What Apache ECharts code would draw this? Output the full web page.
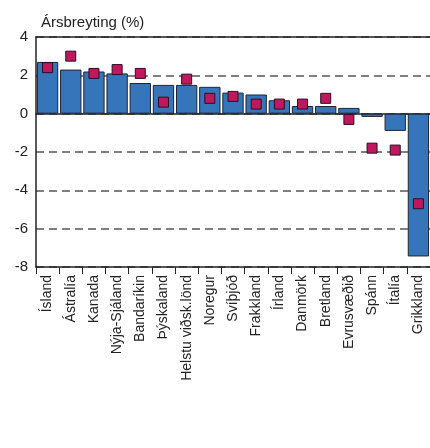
<!DOCTYPE html>
<html lang="is">
<head>
<meta charset="UTF-8">
<title>Ársbreyting</title>
<script src="https://cdn.jsdelivr.net/npm/echarts@6/dist/echarts.min.js"></script>
<style>
  html, body { margin: 0; padding: 0; background: #fff; }
  #chart { width: 430px; height: 448px; }
</style>
</head>
<body>
<div id="chart"></div>
<script>
// flokkar (lönd)
var countries = ['Ísland', 'Ástralía', 'Kanada', 'Nýja-Sjáland', 'Bandaríkin', 'Þýskaland',
  'Helstu viðsk.lönd', 'Noregur', 'Svíþjóð', 'Frakkland', 'Írland', 'Danmörk', 'Bretland',
  'Evrusvæðið', 'Spánn', 'Ítalía', 'Grikkland'];
// Fjórði ársfjórðungur 2011
var q4_2011 = [2.7, 2.3, 2.2, 2.1, 1.6, 1.5, 1.5, 1.4, 1.1, 1.0, 0.7, 0.4, 0.4, 0.3, -0.17, -0.9, -7.45];
// Spá AGS fyrir 2012
var imf2012 = [2.4, 3.0, 2.1, 2.3, 2.1, 0.6, 1.8, 0.8, 0.9, 0.5, 0.5, 0.5, 0.8, -0.3, -1.8, -1.9, -4.7];
var yTicks = { min: -8, max: 4, step: 2 };

var barName = 'Fjórði ársfjórðungur 2011';
var dotName = 'Spá Alþjóðagjaldeyrissjóðsins fyrir árið 2012';
var axisColor = '#222';

// aukaás: bara lína (núll-lína og efri brún)
function plainAxis(extra) {
  return Object.assign({
    type: 'category', data: countries, show: true,
    axisTick: { show: false }, axisLabel: { show: false }, splitLine: { show: false },
    axisLine: { lineStyle: { color: axisColor, width: 1.5 } }
  }, extra);
}

var chart = echarts.init(document.getElementById('chart'));
chart.setOption({
  animation: false,
  title: {
    text: 'Ársbreyting (%)',
    left: 36, top: 10,
    textStyle: { fontSize: 15, fontWeight: 'normal', color: axisColor }
  },
  grid: { left: 36, top: 37, right: 0, height: 230 },
  xAxis: [
    {
      type: 'category',
      data: countries,
      position: 'bottom',
      axisLine: { onZero: false, lineStyle: { color: axisColor, width: 1.5 } },
      axisTick: { show: true, interval: 0, length: 7, lineStyle: { color: axisColor } },
      axisLabel: { rotate: 90, interval: 0, fontSize: 14, color: axisColor, margin: 8 }
    },
    plainAxis({ position: 'bottom', axisLine: { onZero: true, lineStyle: { color: axisColor, width: 1.5 } } }),
    plainAxis({ position: 'top' })
  ],
  yAxis: {
    type: 'value',
    min: yTicks.min, max: yTicks.max, interval: yTicks.step,
    axisLine: { show: true, lineStyle: { color: axisColor, width: 1.5 } },
    axisTick: { show: false },
    axisLabel: { fontSize: 15, color: axisColor, margin: 8 },
    splitLine: { lineStyle: { type: [8, 5], color: '#555', width: 1.5 } }
  },
  series: [
    {
      name: barName,
      type: 'bar',
      data: q4_2011,
      barCategoryGap: '8%',
      itemStyle: { color: '#3775bb', borderColor: '#1c2533', borderWidth: 1 }
    },
    {
      name: dotName,
      type: 'scatter',
      data: imf2012,
      symbol: 'rect',
      symbolSize: 10,
      itemStyle: { color: '#c0185e', borderColor: '#2a1020', borderWidth: 1, opacity: 1 },
      z: 5
    }
  ]
});
</script>
</body>
</html>
